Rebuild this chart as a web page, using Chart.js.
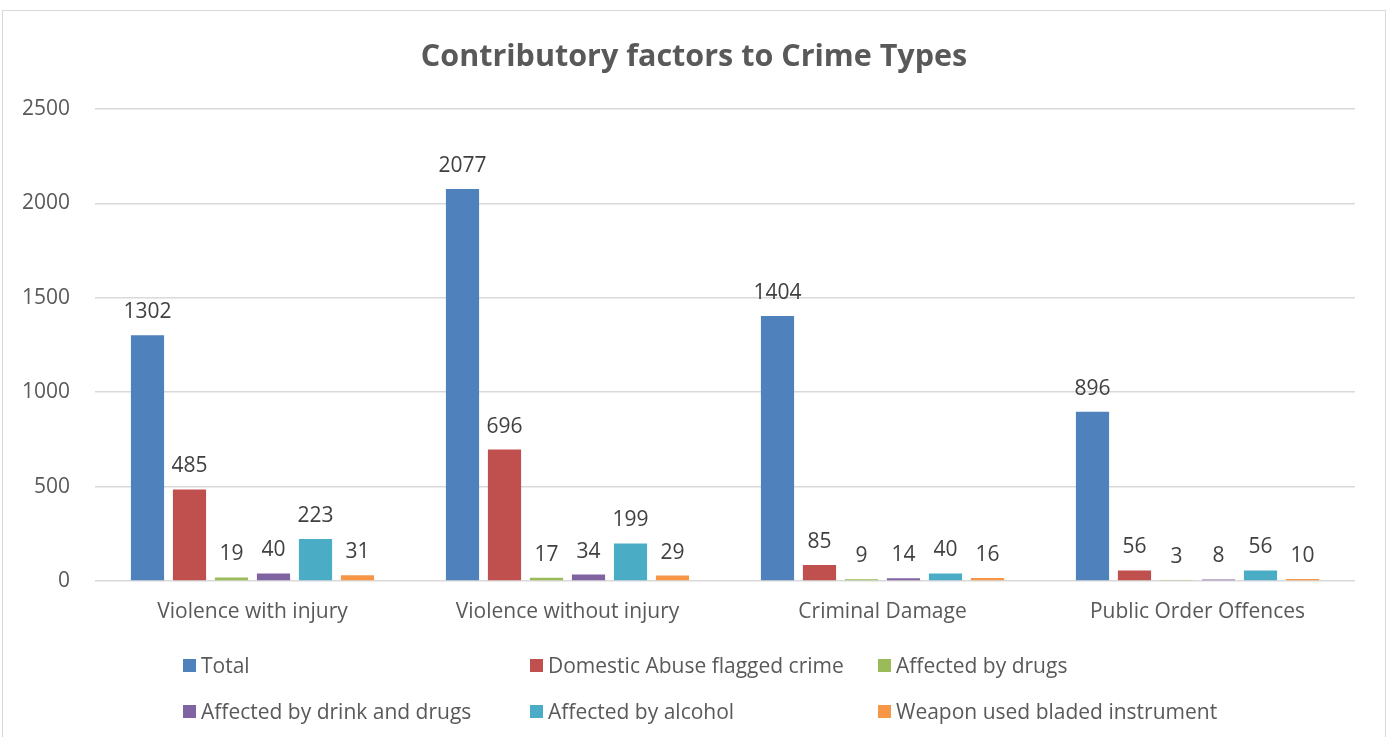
<!DOCTYPE html>
<html>
<head>
<meta charset="utf-8">
<script src="https://cdn.jsdelivr.net/npm/chart.js@4"></script>
<style>
  html, body { margin: 0; padding: 0; background: #fff; width: 1390px; height: 737px; overflow: hidden; }
  #frame { position: absolute; left: 2px; top: 10px; width: 1382px; height: 760px; border: 1px solid #d9d9d9; }
  #wrap { position: absolute; left: 0; top: 0; width: 1390px; height: 737px; }
  #legend { position: absolute; left: 0; top: 0; width: 1390px; height: 737px; pointer-events: none;
            font-family: "Open Sans", sans-serif; font-size: 21px; color: #595959; }
  .item { position: absolute; display: flex; align-items: center; white-space: nowrap; transform: translateY(-50%); }
  .box { width: 13px; height: 13px; margin-right: 5px; }
</style>
</head>
<body>
<div id="frame"></div>
<div id="wrap"><canvas id="crimeChart" width="1390" height="737"></canvas></div>
<div id="legend"></div>
<script>
// Dados do gráfico
const categories = ['Violence with injury', 'Violence without injury', 'Criminal Damage', 'Public Order Offences'];
const seriesNames = ['Total', 'Domestic Abuse flagged crime', 'Affected by drugs',
  'Affected by drink and drugs', 'Affected by alcohol', 'Weapon used bladed instrument'];
const total = [1302, 2077, 1404, 896];
const domesticAbuse = [485, 696, 85, 56];
const drugs = [19, 17, 9, 3];
const drinkAndDrugs = [40, 34, 14, 8];
const alcohol = [223, 199, 40, 56];
const bladedWeapon = [31, 29, 16, 10];
const yTicks = [0, 500, 1000, 1500, 2000, 2500];

const colors = ['#4F81BD', '#C0504D', '#9BBB59', '#8064A2', '#4BACC6', '#F79646'];
const values = [total, domesticAbuse, drugs, drinkAndDrugs, alcohol, bladedWeapon];
const FONT = '"Open Sans", sans-serif';

// Rótulos de valor acima das barras
const valueLabels = {
  id: 'valueLabels',
  afterLayout(chart) {
    // centraliza o título na largura da moldura
    if (chart.titleBlock) {
      chart.titleBlock.left += 6.5;
      chart.titleBlock.right += 6.5;
    }
  },
  afterDatasetsDraw(chart) {
    const ctx = chart.ctx;
    ctx.save();
    ctx.font = '21px ' + FONT;
    ctx.fillStyle = '#404040';
    ctx.textAlign = 'center';
    ctx.textBaseline = 'alphabetic';
    chart.data.datasets.forEach((ds, i) => {
      chart.getDatasetMeta(i).data.forEach((bar, j) => {
        ctx.fillText(String(ds.data[j]), bar.x, bar.y - 17);
      });
    });
    ctx.restore();
  }
};

const chart = new Chart(document.getElementById('crimeChart'), {
  type: 'bar',
  data: {
    labels: categories,
    datasets: seriesNames.map((name, i) => ({
      label: name,
      data: values[i],
      backgroundColor: colors[i],
      borderWidth: 0,
      categoryPercentage: 0.8,
      barPercentage: 0.79
    }))
  },
  options: {
    responsive: false,
    animation: false,
    layout: { padding: { left: 20, right: 35, top: 10, bottom: 113 } },
    plugins: {
      legend: { display: false },
      tooltip: { enabled: false },
      title: {
        display: true,
        text: 'Contributory factors to Crime Types',
        color: '#595959',
        font: { family: FONT, size: 30.5, weight: 'bold' },
        padding: { top: 29, bottom: 33.5 }
      }
    },
    scales: {
      x: {
        grid: { display: false, drawTicks: false },
        border: { display: false },
        ticks: { color: '#595959', font: { family: FONT, size: 21 }, padding: 18 },
        afterFit(scale) { scale.height = 43; }
      },
      y: {
        min: 0,
        max: 2500,
        afterBuildTicks(scale) { scale.ticks = yTicks.map(v => ({ value: v })); },
        grid: { color: '#d9d9d9', lineWidth: 1.5, drawTicks: false },
        border: { display: false },
        ticks: { color: '#595959', font: { family: FONT, size: 21 }, padding: 25,
                 callback: v => String(v) },
        afterFit(scale) { scale.width = 75; }
      }
    }
  },
  plugins: [valueLabels]
});

// Legenda em grade (3 colunas x 2 linhas)
const legend = document.getElementById('legend');
const colX = [183, 530, 878];
const rowY = [665, 711];
chart.data.datasets.forEach((ds, i) => {
  const item = document.createElement('div');
  item.className = 'item';
  item.style.left = colX[i % 3] + 'px';
  item.style.top = rowY[Math.floor(i / 3)] + 'px';
  const box = document.createElement('span');
  box.className = 'box';
  box.style.background = ds.backgroundColor;
  item.appendChild(box);
  item.appendChild(document.createTextNode(ds.label));
  legend.appendChild(item);
});
</script>
</body>
</html>
